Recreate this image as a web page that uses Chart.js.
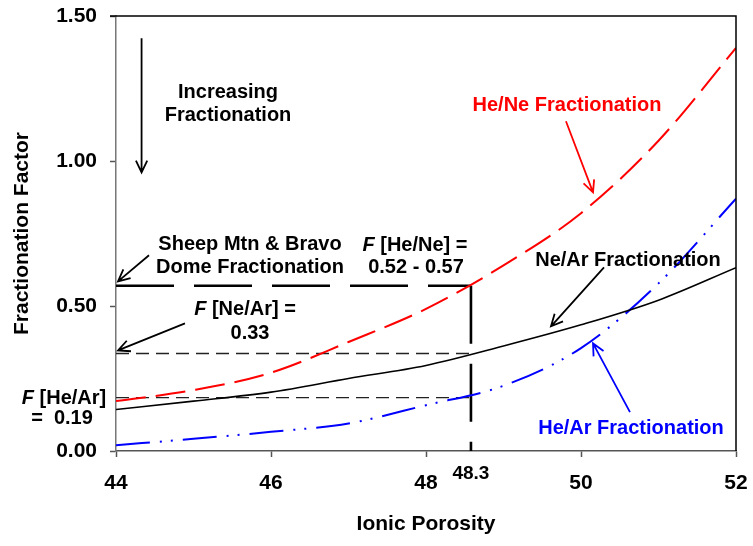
<!DOCTYPE html>
<html>
<head>
<meta charset="utf-8">
<script src="https://cdn.jsdelivr.net/npm/chart.js@4.4.1/dist/chart.umd.min.js"></script>
<style>
  html, body { margin: 0; padding: 0; background: #fff; }
  #wrap { width: 753px; height: 546px; }
</style>
</head>
<body>
<div id="wrap"><canvas id="fracChart" width="753" height="546"></canvas></div>
<script>
'use strict';

// ionic porosity (x) and fractionation factors
const porosity = [44, 45, 46, 47, 48, 49, 50, 51, 52];
const heNe = [0.172, 0.21, 0.27, 0.376, 0.49, 0.64, 0.82, 1.07, 1.39];
const neAr = [0.143, 0.172, 0.203, 0.25, 0.295, 0.362, 0.435, 0.52, 0.632];
const heAr = [0.02, 0.042, 0.066, 0.095, 0.158, 0.225, 0.355, 0.578, 0.87];

// guide lines at the Sheep Mtn / Bravo Dome porosity
const markPorosity = 48.58;
const markLabel = '48.3';
const sheepLevel = 0.57;
const neArLevel = 0.336;
const heArLevel = 0.184;

const xTicks = [44, 46, 48, 50, 52];
const yTicks = [0, 0.5, 1.0, 1.5];

const FONT = '"Liberation Sans", Arial, Helvetica, sans-serif';

function pts(xs, ys) {
  return xs.map((x, i) => ({ x: x, y: ys[i] }));
}

// arrows in data units [x1, y1, x2, y2, colour]
const arrows = [
  [44.33, 1.423, 44.33, 0.961, '#000'],
  [49.806, 1.137, 50.155, 0.892, '#ff0000'],
  [44.426, 0.675, 44.026, 0.585, '#000'],
  [44.89, 0.44, 44.026, 0.347, '#000'],
  [50.297, 0.633, 49.613, 0.43, '#000'],
  [50.632, 0.134, 50.155, 0.371, '#0000ff']
];

// text labels: [x px, cap-centre y px, colour, segments]
const labels = [
  [228, 91, '#000', [['Increasing']]],
  [228, 114, '#000', [['Fractionation']]],
  [567, 104, '#ff0000', [['He/Ne Fractionation']]],
  [250, 243, '#000', [['Sheep Mtn & Bravo']]],
  [250, 266, '#000', [['Dome Fractionation']]],
  [415, 244, '#000', [['F', 1], [' [He/Ne] =']]],
  [416, 266, '#000', [['0.52 - 0.57']]],
  [628, 259, '#000', [['Ne/Ar Fractionation']]],
  [245, 308, '#000', [['F', 1], [' [Ne/Ar] =']]],
  [250, 332, '#000', [['0.33']]],
  [64, 397, '#000', [['F', 1], [' [He/Ar]']]],
  [62, 417, '#000', [['=  0.19']]],
  [631, 427, '#0000ff', [['He/Ar Fractionation']]]
];

function drawArrow(ctx, x1, y1, x2, y2, color) {
  const a = Math.atan2(y2 - y1, x2 - x1);
  const len = 13, spread = 0.45;
  ctx.save();
  ctx.strokeStyle = color;
  ctx.lineWidth = 1.8;
  ctx.beginPath();
  ctx.moveTo(x1, y1);
  ctx.lineTo(x2, y2);
  ctx.moveTo(x2 - len * Math.cos(a - spread), y2 - len * Math.sin(a - spread));
  ctx.lineTo(x2, y2);
  ctx.lineTo(x2 - len * Math.cos(a + spread), y2 - len * Math.sin(a + spread));
  ctx.stroke();
  ctx.restore();
}

function drawRich(ctx, cx, cy, color, segs, size) {
  let total = 0;
  const widths = segs.map((s) => {
    ctx.font = (s[1] ? 'italic ' : '') + 'bold ' + size + 'px ' + FONT;
    const w = ctx.measureText(s[0]).width;
    total += w;
    return w;
  });
  let x = cx - total / 2;
  ctx.fillStyle = color;
  ctx.textAlign = 'left';
  ctx.textBaseline = 'alphabetic';
  segs.forEach((s, i) => {
    ctx.font = (s[1] ? 'italic ' : '') + 'bold ' + size + 'px ' + FONT;
    ctx.fillText(s[0], x, cy + size * 0.36);
    x += widths[i];
  });
}

const annotationPlugin = {
  id: 'annotationPlugin',
  afterDraw(chart) {
    const ctx = chart.ctx;
    const xs = chart.scales.x;
    const ys = chart.scales.y;
    const area = chart.chartArea;

    // top and right frame
    ctx.save();
    ctx.strokeStyle = '#000';
    ctx.lineWidth = 1.5;
    ctx.beginPath();
    ctx.moveTo(area.left - 6, area.top);
    ctx.lineTo(area.right, area.top);
    ctx.lineTo(area.right, area.bottom);
    ctx.stroke();
    ctx.restore();

    arrows.forEach((a) => {
      drawArrow(ctx, xs.getPixelForValue(a[0]), ys.getPixelForValue(a[1]),
        xs.getPixelForValue(a[2]), ys.getPixelForValue(a[3]), a[4]);
    });

    ctx.save();
    labels.forEach((l) => drawRich(ctx, l[0], l[1], l[2], l[3], 20));
    drawRich(ctx, xs.getPixelForValue(markPorosity), 472, '#000', [[markLabel]], 19);
    ctx.restore();
  }
};

const ctx = document.getElementById('fracChart').getContext('2d');

const chart = new Chart(ctx, {
  type: 'line',
  data: {
    datasets: [
      {
        label: 'He/Ne',
        data: pts(porosity, heNe),
        borderColor: '#ff0000',
        borderWidth: 2,
        borderDash: [30, 10],
        cubicInterpolationMode: 'monotone'
      },
      {
        label: 'Ne/Ar',
        data: pts(porosity, neAr),
        borderColor: '#000',
        borderWidth: 1.6,
        cubicInterpolationMode: 'monotone'
      },
      {
        label: 'He/Ar',
        data: pts(porosity, heAr),
        borderColor: '#0000ff',
        borderWidth: 2,
        borderDash: [34, 10, 2, 9, 2, 10],
        cubicInterpolationMode: 'monotone'
      },
      {
        label: 'sheep',
        data: [{ x: porosity[0], y: sheepLevel }, { x: markPorosity, y: sheepLevel }],
        borderColor: '#000',
        borderWidth: 2.6,
        borderDash: [58, 20]
      },
      {
        label: 'mark',
        data: [{ x: markPorosity, y: sheepLevel }, { x: markPorosity, y: 0 }],
        borderColor: '#000',
        borderWidth: 2.6,
        borderDash: [58, 20]
      },
      {
        label: 'neArLevel',
        data: [{ x: porosity[0], y: neArLevel }, { x: markPorosity, y: neArLevel }],
        borderColor: '#222',
        borderWidth: 1.4,
        borderDash: [13, 7]
      },
      {
        label: 'heArLevel',
        data: [{ x: porosity[0], y: heArLevel }, { x: markPorosity, y: heArLevel }],
        borderColor: '#222',
        borderWidth: 1.4,
        borderDash: [13, 7]
      }
    ]
  },
  options: {
    responsive: false,
    animation: false,
    events: [],
    layout: {
      padding: { top: 16, right: 17, left: 0, bottom: 0 }
    },
    elements: {
      point: { radius: 0 },
      line: { fill: false, tension: 0 }
    },
    plugins: {
      legend: { display: false },
      tooltip: { enabled: false }
    },
    scales: {
      x: {
        type: 'linear',
        min: 44,
        max: 52,
        afterFit: (scale) => {
          scale.height = 95;
          scale.paddingLeft = 0;
          scale.paddingRight = 0;
        },
        afterBuildTicks: (scale) => { scale.ticks = xTicks.map((v) => ({ value: v })); },
        border: { color: '#555', width: 1.5 },
        grid: { drawOnChartArea: false, tickLength: 6, tickColor: '#555', tickWidth: 1.5 },
        ticks: {
          color: '#000',
          padding: 14,
          font: { family: FONT, size: 21, weight: 'bold' },
          callback: (v) => String(v)
        },
        title: {
          display: true,
          text: 'Ionic Porosity',
          color: '#000',
          font: { family: FONT, size: 21, weight: 'bold' },
          padding: { top: 0, bottom: 9 }
        }
      },
      y: {
        min: 0,
        max: 1.5,
        afterFit: (scale) => {
          scale.width = 116;
          scale.paddingTop = 0;
          scale.paddingBottom = 0;
        },
        afterBuildTicks: (scale) => { scale.ticks = yTicks.map((v) => ({ value: v })); },
        border: { color: '#777', width: 1.5 },
        grid: { drawOnChartArea: false, tickLength: 6, tickColor: '#555', tickWidth: 1.5 },
        ticks: {
          color: '#000',
          padding: 13,
          font: { family: FONT, size: 21, weight: 'bold' },
          callback: (v) => Number(v).toFixed(2)
        },
        title: {
          display: true,
          text: 'Fractionation Factor',
          color: '#000',
          font: { family: FONT, size: 21, weight: 'bold' },
          padding: { top: 10, bottom: 0 }
        }
      }
    }
  },
  plugins: [annotationPlugin]
});
</script>
</body>
</html>
